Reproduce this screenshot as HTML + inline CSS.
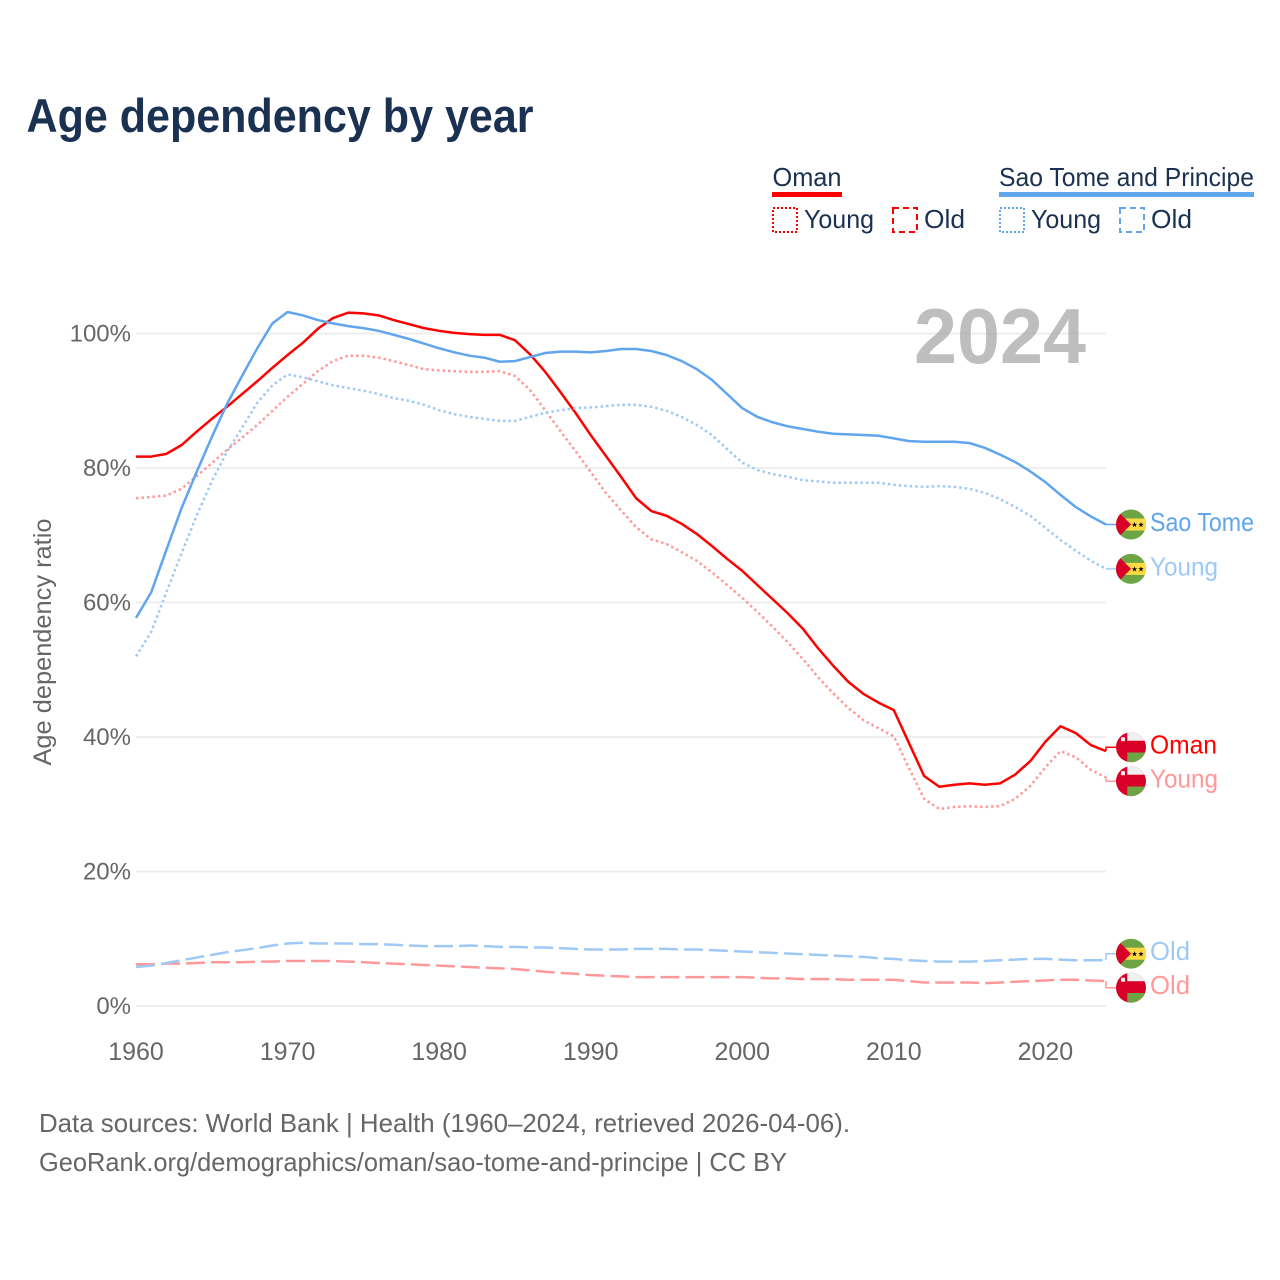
<!DOCTYPE html>
<html lang="en">
<head>
<meta charset="utf-8">
<title>Age dependency by year</title>
<style>
html,body{margin:0;padding:0;background:#fff;}
svg{display:block;font-family:"Liberation Sans",sans-serif;}
</style>
</head>
<body>
<svg id="chart" xmlns="http://www.w3.org/2000/svg" width="1280" height="1280" viewBox="0 0 1280 1280">
<defs>
<clipPath id="flag-clip"><circle cx="0" cy="0" r="15"></circle></clipPath>
<g id="flag-stp" clip-path="url(#flag-clip)">
<rect x="-15" y="-15" width="30" height="30" fill="#6da544"></rect>
<rect x="-15" y="-6" width="30" height="12" fill="#ffda44"></rect>
<polygon points="-15,-15 0,0 -15,15" fill="#d80027"></polygon>
<polygon transform="translate(3.5,0.3)" points="0,-2.8 .7,-.9 2.7,-.9 1.1,.3 1.7,2.3 0,1.1 -1.7,2.3 -1.1,.3 -2.7,-.9 -.7,-.9" fill="#000"></polygon>
<polygon transform="translate(10,0.3)" points="0,-2.8 .7,-.9 2.7,-.9 1.1,.3 1.7,2.3 0,1.1 -1.7,2.3 -1.1,.3 -2.7,-.9 -.7,-.9" fill="#000"></polygon>
</g>
<g id="flag-oman" clip-path="url(#flag-clip)">
<rect x="-15" y="-15" width="30" height="30" fill="#d80027"></rect>
<rect x="-3.7" y="-15" width="19" height="8.5" fill="#f0f0f0"></rect>
<rect x="-3.7" y="5.3" width="19" height="10" fill="#6da544"></rect>
<rect x="-10" y="-10" width="4" height="4" fill="#f0f0f0"></rect>
</g>
</defs>
<rect x="0" y="0" width="1280" height="1280" fill="#fff"></rect>
<text x="26.5" y="132" font-size="47" font-weight="700" fill="#1a3152" textLength="507" lengthAdjust="spacingAndGlyphs">Age dependency by year</text>

<g fill="#1a3152" font-size="26">
<text x="772.5" y="186" textLength="69" lengthAdjust="spacingAndGlyphs">Oman</text>
<rect x="772" y="192" width="70" height="5" fill="#ff0000"></rect>
<rect x="773" y="208" width="24" height="24" fill="none" stroke="#ff0000" stroke-width="2" stroke-dasharray="2 2"></rect>
<text x="804" y="228" textLength="70" lengthAdjust="spacingAndGlyphs">Young</text>
<rect x="893" y="208" width="24" height="24" fill="none" stroke="#ff0000" stroke-width="2" stroke-dasharray="6 4"></rect>
<text x="924" y="228" textLength="41" lengthAdjust="spacingAndGlyphs">Old</text>
<text x="999" y="186" textLength="255" lengthAdjust="spacingAndGlyphs">Sao Tome and Principe</text>
<rect x="999" y="192" width="255" height="5" fill="#60a5ee"></rect>
<rect x="1000" y="208" width="24" height="24" fill="none" stroke="#60a5ee" stroke-width="2" stroke-dasharray="2 2"></rect>
<text x="1031" y="228" textLength="70" lengthAdjust="spacingAndGlyphs">Young</text>
<rect x="1120" y="208" width="24" height="24" fill="none" stroke="#60a5ee" stroke-width="2" stroke-dasharray="6 4"></rect>
<text x="1151" y="228" textLength="41" lengthAdjust="spacingAndGlyphs">Old</text>
</g>

<g id="grid"></g>
<text x="914" y="363" font-size="78" font-weight="700" fill="#a8a8a8" fill-opacity="0.75" textLength="172" lengthAdjust="spacingAndGlyphs">2024</text>
<g id="ticks" font-size="25" fill="#666666"></g>
<text transform="translate(51,642) rotate(-90)" text-anchor="middle" font-size="25" fill="#666666" textLength="247" lengthAdjust="spacingAndGlyphs">Age dependency ratio</text>
<g id="series" fill="none" stroke-width="2.5" stroke-linejoin="round"></g>
<g id="labels" font-size="26"></g>

<text x="39" y="1132" font-size="26" fill="#666666" textLength="811" lengthAdjust="spacingAndGlyphs">Data sources: World Bank | Health (1960–2024, retrieved 2026-04-06).</text>
<text x="39" y="1171" font-size="26" fill="#666666" textLength="748" lengthAdjust="spacingAndGlyphs">GeoRank.org/demographics/oman/sao-tome-and-principe | CC BY</text>
</svg>
<script>
const startYear = 1960;
const xTickLabels = [1960, 1970, 1980, 1990, 2000, 2010, 2020];
const yTickLabels = [0, 20, 40, 60, 80, 100];

const omanTotal = [81.7,81.7,82.1,83.4,85.4,87.3,89.1,91,92.9,94.9,96.8,98.6,100.7,102.3,103.1,103,102.7,102,101.4,100.8,100.4,100.1,99.9,99.8,99.8,99,96.9,94.3,91.3,88.2,84.9,81.8,78.7,75.5,73.6,72.9,71.7,70.2,68.4,66.5,64.7,62.6,60.5,58.4,56.1,53.2,50.6,48.2,46.4,45.1,44,39.1,34.2,32.6,32.9,33.1,32.9,33.1,34.4,36.4,39.3,41.6,40.6,38.8,37.9];
const omanYoung = [75.5,75.7,75.9,76.9,78.8,80.7,82.7,84.5,86.4,88.5,90.6,92.5,94.4,95.9,96.7,96.7,96.4,95.9,95.3,94.7,94.5,94.4,94.3,94.3,94.4,93.7,91.6,88.6,85.5,82.5,79.4,76.3,73.7,71.2,69.4,68.7,67.5,66.2,64.5,62.6,60.7,58.6,56.4,54.1,51.6,48.9,46.5,44.3,42.5,41.3,40.1,35.4,30.8,29.3,29.6,29.7,29.6,29.7,30.8,32.7,35.5,37.9,37,35.1,34];
const omanOld = [6.2,6.2,6.3,6.3,6.4,6.5,6.5,6.5,6.6,6.6,6.7,6.7,6.7,6.7,6.6,6.5,6.4,6.3,6.2,6.1,6,5.9,5.8,5.7,5.6,5.5,5.3,5.1,4.9,4.8,4.6,4.5,4.4,4.3,4.3,4.3,4.3,4.3,4.3,4.3,4.3,4.2,4.1,4.1,4,4,4,3.9,3.9,3.9,3.9,3.7,3.5,3.5,3.5,3.5,3.4,3.5,3.6,3.7,3.8,3.9,3.9,3.8,3.7];
const stpTotal = [57.7,61.5,67.8,74,79.4,84.6,89.5,93.7,97.8,101.5,103.2,102.7,102,101.5,101.1,100.8,100.4,99.8,99.2,98.5,97.8,97.2,96.7,96.4,95.8,95.9,96.5,97.1,97.3,97.3,97.2,97.4,97.7,97.7,97.4,96.8,95.9,94.7,93.1,91,88.9,87.6,86.8,86.2,85.8,85.4,85.1,85,84.9,84.8,84.4,84,83.9,83.9,83.9,83.7,83,82,80.9,79.5,77.9,76,74.2,72.8,71.6];
const stpYoung = [52,55.6,61.5,67.3,72.9,78,82.4,86,89.7,92.3,93.9,93.5,92.9,92.3,91.9,91.5,91,90.4,90,89.4,88.6,88,87.6,87.3,87,87,87.6,88.2,88.6,88.9,89,89.2,89.4,89.4,89.1,88.5,87.6,86.4,84.9,82.8,80.8,79.7,79.1,78.7,78.2,78,77.8,77.8,77.8,77.8,77.5,77.3,77.2,77.3,77.2,76.9,76.3,75.4,74.2,72.9,71.1,69.3,67.7,66.2,65];
const stpOld = [5.8,6,6.4,6.8,7.2,7.6,8,8.3,8.6,9,9.3,9.4,9.3,9.3,9.3,9.2,9.2,9.1,9,8.9,8.9,8.9,9,8.9,8.8,8.8,8.7,8.7,8.6,8.5,8.4,8.4,8.4,8.5,8.5,8.5,8.4,8.4,8.3,8.2,8.1,8,7.9,7.8,7.7,7.6,7.5,7.4,7.3,7.1,7,6.8,6.7,6.6,6.6,6.6,6.7,6.8,6.9,7,7,6.9,6.8,6.8,6.8];

const SVGNS = 'http://www.w3.org/2000/svg';
function xScale(year) { return 136 + (year - 1960) * (970 / 64); }
function yScale(v) { return 1006 - v * 6.725; }
function make(tag, parent) {
  const el = document.createElementNS(SVGNS, tag);
  parent.appendChild(el);
  return el;
}

const grid = document.getElementById('grid');
const ticks = document.getElementById('ticks');
yTickLabels.forEach(function (v) {
  const line = make('line', grid);
  
  
  line.setAttribute('x1', 136);
  line.setAttribute('x2', 1106);
  line.setAttribute('y1', yScale(v));
  line.setAttribute('y2', yScale(v));
  line.setAttribute('stroke', '#eeeeee');
  line.setAttribute('stroke-width', 2);
  const t = make('text', ticks);
  
  
  t.setAttribute('x', 131);
  t.setAttribute('y', yScale(v) + 8);
  t.setAttribute('text-anchor', 'end');
  t.setAttribute('font-size', 24);
  t.textContent = v + '%';
});
xTickLabels.forEach(function (y) {
  const t = make('text', ticks);
  
  
  t.setAttribute('x', xScale(y));
  t.setAttribute('y', 1060);
  t.setAttribute('text-anchor', 'middle');
  t.textContent = y;
});

const seriesList = [
  { id: 'oman-old', values: omanOld, color: '#ff9999', dash: '19 6', label: 'Old', flag: 'flag-oman' },
  { id: 'oman-young', values: omanYoung, color: '#ff9999', dash: '2.5 3', label: 'Young', flag: 'flag-oman' },
  { id: 'oman-total', values: omanTotal, color: '#ff0000', dash: '', label: 'Oman', flag: 'flag-oman' },
  { id: 'sao-tome-old', values: stpOld, color: '#9fc9f5', dash: '19 6', label: 'Old', flag: 'flag-stp' },
  { id: 'sao-tome-young', values: stpYoung, color: '#9fc9f5', dash: '2.5 3', label: 'Young', flag: 'flag-stp' },
  { id: 'sao-tome-total', values: stpTotal, color: '#60a5ee', dash: '', label: 'Sao Tome', flag: 'flag-stp' }
];

const seriesGroup = document.getElementById('series');
seriesList.forEach(function (s) {
  const p = make('path', seriesGroup);
  
  
  p.setAttribute('d', s.values.map(function (v, i) {
    return (i ? 'L' : 'M') + xScale(startYear + i).toFixed(2) + ' ' + yScale(v).toFixed(2);
  }).join(' '));
  p.setAttribute('stroke', s.color);
  if (s.dash) { p.setAttribute('stroke-dasharray', s.dash); }
});

/* place end labels: push overlapping neighbours apart */
const ordered = seriesList.map(function (s) {
  const endY = yScale(s.values[s.values.length - 1]);
  return { s: s, endY: endY, labelY: endY };
}).sort(function (a, b) { return a.endY - b.endY; });
for (let pass = 0; pass < 4; pass++) {
  for (let i = 1; i < ordered.length; i++) {
    const gap = ordered[i].labelY - ordered[i - 1].labelY;
    if (gap < 34) {
      const shift = (34 - gap) / 2;
      ordered[i].labelY += shift;
      ordered[i - 1].labelY -= shift;
    }
  }
}
const labels = document.getElementById('labels');
ordered.forEach(function (o) {
  const ly = o.labelY;
  const c = make('path', labels);
  
  
  c.setAttribute('d', 'M1106 ' + o.endY.toFixed(1) + ' L1106 ' + ly.toFixed(1) + ' L1116 ' + ly.toFixed(1));
  c.setAttribute('fill', 'none');
  c.setAttribute('stroke', o.s.color);
  c.setAttribute('stroke-width', 1.5);
  const f = make('use', labels);
  
  
  f.setAttribute('href', '#' + o.s.flag);
  f.setAttribute('transform', 'translate(1131,' + ly.toFixed(1) + ')');
  const t = make('text', labels);
  
  
  t.setAttribute('x', 1150);
  t.setAttribute('y', (ly + 6.5).toFixed(1));
  t.setAttribute('fill', o.s.color);
  const widths = { 'Sao Tome': 104, 'Oman': 67, 'Young': 68, 'Old': 40 };
  t.setAttribute('textLength', widths[o.s.label]);
  t.setAttribute('lengthAdjust', 'spacingAndGlyphs');
  t.textContent = o.s.label;
});
</script>
</body>
</html>
